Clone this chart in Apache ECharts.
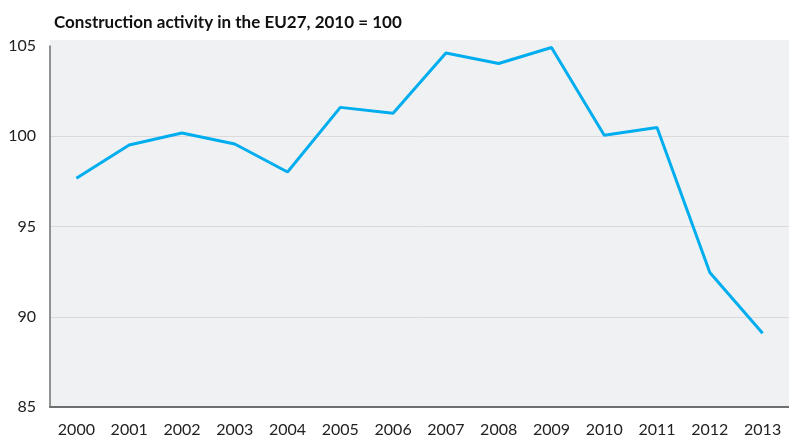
<!DOCTYPE html>
<html>
<head>
<meta charset="utf-8">
<script src="https://cdn.jsdelivr.net/npm/echarts@6/dist/echarts.min.js"></script>
<style>
html, body { margin: 0; padding: 0; background: #fff; }
#chart { width: 789px; height: 438px; }
</style>
</head>
<body>
<div id="chart"></div>
<script>
// values
var years = ['2000', '2001', '2002', '2003', '2004', '2005', '2006',
             '2007', '2008', '2009', '2010', '2011', '2012', '2013'];
var activity = [97.67, 99.52, 100.18, 99.57, 98.02, 101.6, 101.27,
                104.61, 104.03, 104.92, 100.05, 100.48, 92.45, 89.08];
var yTicks = [85, 90, 95, 100, 105];

var font = 'Lato';
var chart = echarts.init(document.getElementById('chart'));
chart.setOption({
    animation: false,
    title: {
        text: 'Construction activity in the EU27, 2010 = 100',
        left: 49,
        top: 9,
        textStyle: { fontFamily: font, fontWeight: 'bold', fontSize: 17, color: '#111' }
    },
    graphic: [{
        type: 'rect',
        z: -10,
        shape: { x: 50, y: 40, width: 739, height: 7 },
        style: { fill: '#f0f1f3' }
    }],
    grid: {
        left: 50,
        top: 46,
        width: 744,
        height: 362,
        show: true,
        backgroundColor: '#f0f1f3',
        borderWidth: 0
    },
    xAxis: {
        type: 'category',
        data: years,
        boundaryGap: true,
        axisLine: { lineStyle: { color: '#6f6f6f', width: 2 } },
        axisTick: { length: 12, lineStyle: { color: '#b5b5b5', width: 1.5 } },
        axisLabel: { fontFamily: font, fontSize: 16, color: '#222', margin: 15 }
    },
    yAxis: {
        type: 'value',
        min: yTicks[0],
        max: yTicks[yTicks.length - 1],
        interval: 5,
        axisLine: { show: true, lineStyle: { color: '#6f6f6f', width: 1.5 } },
        axisTick: { show: false },
        axisLabel: { fontFamily: font, fontSize: 16, color: '#222', margin: 14, padding: [0, 0, 5, 0] },
        splitLine: { lineStyle: { color: ['#dadadd', '#dadadd', '#dadadd', '#dadadd', '#f0f1f3'], width: 1 } }
    },
    series: [{
        type: 'line',
        data: activity,
        symbol: 'none',
        lineStyle: { color: '#00aeef', width: 3 }
    }]
});
</script>
</body>
</html>
